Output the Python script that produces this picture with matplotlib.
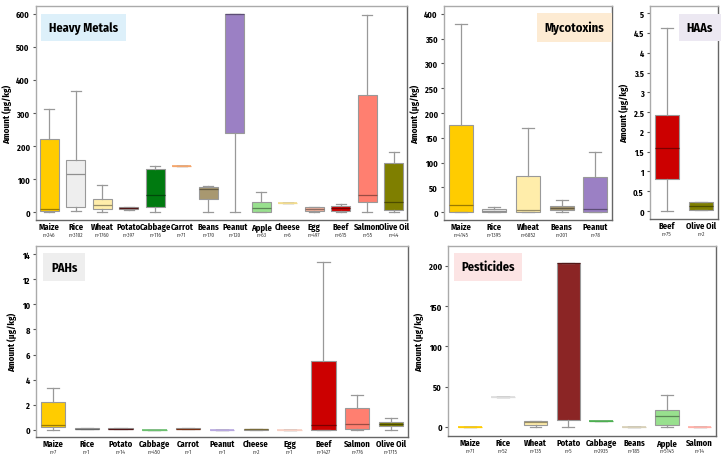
import matplotlib
matplotlib.use('Agg')
import matplotlib.pyplot as plt
import matplotlib.transforms as mtransforms

plt.rcParams['font.family'] = ['Fira Sans Condensed', 'Fira Sans', 'Lato', 'DejaVu Sans']

COLORS = {
    'Maize': '#FFCC00', 'Rice': '#EEEEEE', 'Wheat': '#FFEDAA', 'Potato': '#8B2525',
    'Cabbage': '#007A10', 'Carrot': '#F5A56B', 'Beans': '#A89870', 'Peanut': '#9B80C4',
    'Apple': '#98E08E', 'Cheese': '#F2DC8E', 'Egg': '#F2B39E', 'Beef': '#CC0000',
    'Salmon': '#FF7F70', 'Olive Oil': '#7F7F00',
}

# Heavy metals: (whislo, q1, med, q3, whishi)
hm_foods = ['Maize', 'Rice', 'Wheat', 'Potato', 'Cabbage', 'Carrot', 'Beans', 'Peanut',
            'Apple', 'Cheese', 'Egg', 'Beef', 'Salmon', 'Olive Oil']
hm_n = [246, 3102, 1760, 397, 116, 71, 170, 120, 63, 6, 497, 615, 55, 44]
hm_stats = [(0, 3, 10, 220, 312), (3, 15, 115, 157, 366), (0, 8, 20, 40, 82),
            (7, 9, 12, 14, 14), (0, 15, 52, 130, 140), (139, 139, 139, 139, 139),
            (0, 40, 70, 77, 79), (0, 240, 600, 600, 600), (0, 1, 12, 32, 60),
            (28, 28, 28, 28, 28), (0, 3, 8, 15, 15), (0, 4, 12, 18, 23),
            (0, 30, 52, 354, 598), (0, 5, 30, 150, 182)]

myco_foods = ['Maize', 'Rice', 'Wheat', 'Beans', 'Peanut']
myco_n = [4145, 1395, 6852, 201, 78]
myco_stats = [(0, 1, 14, 175, 380), (0, 1, 3, 6, 10), (0, 1, 5, 72, 170),
              (0, 4, 9, 12, 25), (0, 1, 7, 70, 122)]

haa_foods = ['Beef', 'Olive Oil']
haa_n = [75, 2]
haa_stats = [(0, 0.82, 1.6, 2.42, 4.62), (0.02, 0.02, 0.12, 0.22, 0.22)]

pah_foods = ['Maize', 'Rice', 'Potato', 'Cabbage', 'Carrot', 'Peanut', 'Cheese', 'Egg',
             'Beef', 'Salmon', 'Olive Oil']
pah_n = [7, 1, 14, 450, 1, 1, 2, 1, 1427, 776, 1715]
pah_stats = [(0, 0.25, 0.4, 2.2, 3.3), (0.05, 0.05, 0.1, 0.15, 0.15),
             (0.05, 0.05, 0.1, 0.18, 0.18), (0.02, 0.02, 0.02, 0.02, 0.02),
             (0.05, 0.05, 0.1, 0.15, 0.15), (0.01, 0.01, 0.01, 0.01, 0.01),
             (0.03, 0.03, 0.06, 0.1, 0.1), (0.02, 0.02, 0.02, 0.02, 0.02),
             (0, 0.02, 0.4, 5.45, 13.4), (0, 0.08, 0.5, 1.75, 2.8),
             (0, 0.3, 0.45, 0.6, 0.95)]
pah_colors = {'Carrot': '#C8501E', 'Cabbage': '#6CC070', 'Peanut': '#B8A8E0',
              'Egg': '#F8D0C4', 'Cheese': '#C8B060', 'Rice': '#AAAAAA'}

pest_foods = ['Maize', 'Rice', 'Wheat', 'Potato', 'Cabbage', 'Beans', 'Apple', 'Salmon']
pest_n = [71, 52, 135, 5, 2935, 185, 5145, 14]
pest_stats = [(0.5, 0.5, 0.5, 0.5, 0.5), (37, 37, 37, 37, 37), (0, 3, 6, 7, 7),
              (0, 9, 204, 204, 204), (7, 7, 7, 7, 7), (0.5, 0.5, 0.5, 0.5, 0.5),
              (0, 3, 14, 21, 40), (0.5, 0.5, 0.5, 0.5, 0.5)]
pest_colors = {'Beans': '#D8D0B8', 'Salmon': '#FFB0A8', 'Cabbage': '#4CAF50', 'Rice': '#DDDDDD'}


def darker(c, f=0.6):
    r, g, b = matplotlib.colors.to_rgb(c)
    return (r * f, g * f, b * f)


def draw_panel(fig, rect, foods, n, stats, ylim, xlim, yticks, ytl, title, title_bg,
               title_pos, overrides=None):
    ax = fig.add_axes(rect)
    bx = []
    for f, s in zip(foods, stats):
        bx.append(dict(whislo=s[0], q1=s[1], med=s[2], q3=s[3], whishi=s[4], fliers=[], label=f))
    arts = ax.bxp(bx, positions=range(len(foods)), widths=0.72, patch_artist=True,
                  showfliers=False,
                  whiskerprops=dict(color='#999999', lw=0.9),
                  capprops=dict(color='#999999', lw=0.9),
                  boxprops=dict(lw=0.8), medianprops=dict(lw=0.9))
    for i, f in enumerate(foods):
        c = (overrides or {}).get(f, COLORS[f])
        box = arts['boxes'][i]
        box.set_facecolor(c)
        box.set_edgecolor('#999999')
        s = stats[i]
        arts['medians'][i].set_color(darker(c))
        if s[1] == s[3]:
            box.set_edgecolor(c)
            box.set_linewidth(1.2)
            arts['medians'][i].set_color(c)
    ax.set_ylim(*ylim)
    ax.set_xlim(*xlim)
    ax.set_yticks(yticks)
    ax.set_yticklabels(ytl, fontsize=6, fontweight='bold')
    ax.set_xticks(range(len(foods)))
    ax.set_xticklabels(foods, fontsize=6.2, fontweight='bold')
    ax.tick_params(axis='x', length=0, pad=1.5)
    ax.tick_params(axis='y', length=2.5, width=0.8, pad=2, color='#555555')
    trans = mtransforms.blended_transform_factory(ax.transData, ax.transAxes)
    off = mtransforms.ScaledTranslation(0, -8.2 / 72, fig.dpi_scale_trans)
    for i, k in enumerate(n):
        ax.text(i, 0, f'n={k}', transform=trans + off, fontsize=3.8, ha='center', va='top',
                color='#333333')
    ax.set_ylabel('Amount (μg/kg)', fontsize=6.5, fontweight='bold', labelpad=3)
    for sp in ax.spines.values():
        sp.set_color('#666666')
        sp.set_linewidth(1.0)
    ax.spines['left'].set_color('#aaaaaa')
    ax.spines['top'].set_color('#aaaaaa')
    ha = 'left' if title_pos[0] < 0.5 else 'right'
    ax.text(title_pos[0], title_pos[1], title, transform=ax.transAxes, fontsize=9,
            fontweight='bold', ha=ha, va='center',
            bbox=dict(boxstyle='square,pad=0.6', fc=title_bg, ec='none'))
    return ax


fig = plt.figure(figsize=(7.24, 4.56), dpi=100)
W, H = 724, 456


def rect(x0, x1, y0, y1):
    return [x0 / W, 1 - y1 / H, (x1 - x0) / W, (y1 - y0) / H]


draw_panel(fig, rect(36, 407, 7, 221), hm_foods, hm_n, hm_stats, (-24, 624), (-0.5, 13.5),
           [0, 100, 200, 300, 400, 500, 600], ['0', '100', '200', '300', '400', '500', '600'],
           'Heavy Metals', '#DDF0FA', (0.035, 0.9))
draw_panel(fig, rect(444, 612, 7, 221), myco_foods, myco_n, myco_stats, (-16, 416), (-0.5, 4.5),
           [0, 50, 100, 150, 200, 250, 300, 350, 400],
           ['0', '50', '100', '150', '200', '250', '300', '350', '400'],
           'Mycotoxins', '#FDEBD3', (0.955, 0.9))
draw_panel(fig, rect(650, 718, 7, 220), haa_foods, haa_n, haa_stats, (-0.2, 5.18), (-0.5, 1.5),
           [0, 0.5, 1, 1.5, 2, 2.5, 3, 3.5, 4, 4.5, 5],
           ['0', '0.5', '1', '1.5', '2', '2.5', '3', '3.5', '4', '4.5', '5'],
           'HAAs', '#ECE8F2', (0.93, 0.9))
draw_panel(fig, rect(36, 408, 247, 438), pah_foods, pah_n, pah_stats, (-0.56, 14.64), (-0.5, 10.5),
           [0, 2, 4, 6, 8, 10, 12, 14], ['0', '2', '4', '6', '8', '10', '12', '14'],
           'PAHs', '#EEEEEE', (0.04, 0.89), pah_colors)
draw_panel(fig, rect(448, 716, 247, 437), pest_foods, pest_n, pest_stats, (-11.2, 224.8), (-0.67, 7.5),
           [0, 50, 100, 150, 200], ['0', '50', '100', '150', '200'],
           'Pesticides', '#FCE4E4', (0.05, 0.89), pest_colors)

fig.savefig('out.png', dpi=100)
